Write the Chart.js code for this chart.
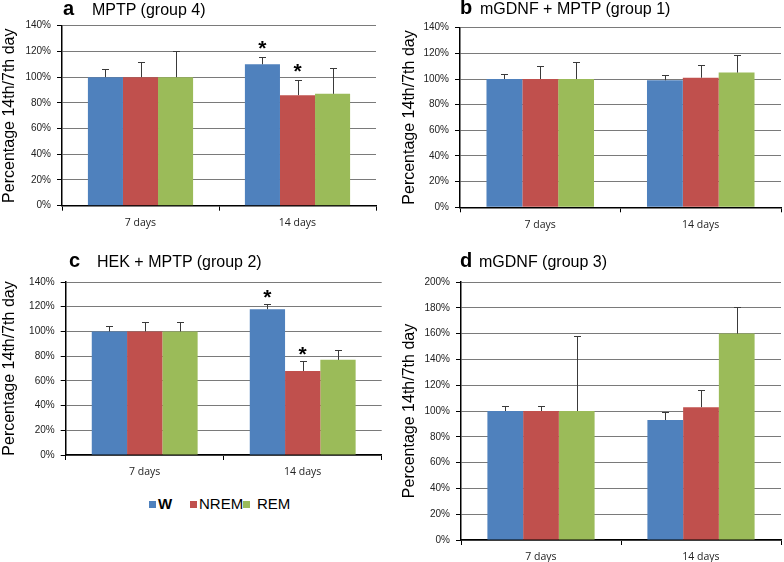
<!DOCTYPE html>
<html>
<head>
<meta charset="utf-8">
<script src="https://cdn.jsdelivr.net/npm/chart.js@4/dist/chart.umd.min.js"></script>
<style>
  html, body { margin:0; padding:0; background:#fff; }
  #wrap { position:relative; width:784px; height:562px; overflow:hidden; background:#fff; font-family:"Liberation Sans", Arial, sans-serif; }
  canvas { position:absolute; }
  .ttl { position:absolute; font-size:16px; line-height:16px; color:#000; white-space:nowrap; }
  .ttl b { font-size:20px; }
  .leg { position:absolute; font-size:15px; line-height:15px; color:#000; white-space:nowrap; }
  .sq { position:absolute; width:7px; height:7px; }
</style>
</head>
<body>
<div id="wrap">
  <canvas id="ca"></canvas>
  <canvas id="cb"></canvas>
  <canvas id="cc"></canvas>
  <canvas id="cd"></canvas>

  <div class="ttl" style="left:63px; top:0px;"><b>a</b></div>
  <div class="ttl" style="left:92px; top:2px;">MPTP (group 4)</div>
  <div class="ttl" style="left:460px; top:-1px;"><b>b</b></div>
  <div class="ttl" style="left:480px; top:1px;">mGDNF + MPTP (group 1)</div>
  <div class="ttl" style="left:69px; top:252px;"><b>c</b></div>
  <div class="ttl" style="left:97px; top:254px;">HEK + MPTP (group 2)</div>
  <div class="ttl" style="left:460px; top:252px;"><b>d</b></div>
  <div class="ttl" style="left:479px; top:254px;">mGDNF (group 3)</div>

  <div class="sq" style="left:149px; top:501px; background:#4F81BD;"></div>
  <div class="leg" style="left:158px; top:496px;"><b>W</b></div>
  <div class="sq" style="left:190px; top:501px; background:#C0504D;"></div>
  <div class="leg" style="left:199px; top:496px;">NREM</div>
  <div class="sq" style="left:243px; top:501px; background:#9BBB59;"></div>
  <div class="leg" style="left:257px; top:496px;">REM</div>
</div>
<script>
// ---- data ----
const categories = ['7 days', '14 days'];
const seriesNames = ['W', 'NREM', 'REM'];
const axisTitle = 'Percentage 14th/7th day';

// panel a: MPTP (group 4)
const aW = [100, 110];      const aWErr = [106, 116];
const aNREM = [100, 86];    const aNREMErr = [112, 98];
const aREM = [100, 87];     const aREMErr = [120, 107];
const aWStar = [false, true];
const aNREMStar = [false, true];
const aREMStar = [false, false];

// panel b: mGDNF + MPTP (group 1)
const bW = [100, 99];       const bWErr = [104, 103];
const bNREM = [100, 101];   const bNREMErr = [110, 111];
const bREM = [100, 105];    const bREMErr = [113, 118.5];

// panel c: HEK + MPTP (group 2)
const cW = [100, 118];      const cWErr = [104.5, 122];
const cNREM = [100, 68];    const cNREMErr = [108, 76];
const cREM = [100, 77];     const cREMErr = [108, 85];
const cWStar = [false, true];
const cNREMStar = [false, true];
const cREMStar = [false, false];

// panel d: mGDNF (group 3)
const dW = [100, 93];       const dWErr = [104, 99];
const dNREM = [100, 103];   const dNREMErr = [104, 116];
const dREM = [100, 160];    const dREMErr = [158, 181];

const yMaxABC = 140;
const yMaxD = 200;
const yStep = 20;

// ---- styles ----
const colors = ['#4F81BD', '#C0504D', '#9BBB59'];
const noStar = [false, false];

const errorBarPlugin = {
  id: 'errorBars',
  afterDatasetsDraw(chart) {
    const ctx = chart.ctx;
    const ys = chart.scales.y;
    const extra = chart.options.plugins.errorBars;
    ctx.save();
    chart.data.datasets.forEach((ds, i) => {
      const meta = chart.getDatasetMeta(i);
      meta.data.forEach((bar, j) => {
        const top = ys.getPixelForValue(ds.errTop[j]);
        ctx.strokeStyle = '#3a3a3a';
        ctx.lineWidth = 1;
        ctx.beginPath();
        const x = Math.round(bar.x) + 0.5;
        ctx.moveTo(x, bar.y);
        ctx.lineTo(x, Math.round(top) + 0.5);
        ctx.moveTo(x - 3.5, Math.round(top) + 0.5);
        ctx.lineTo(x + 3.5, Math.round(top) + 0.5);
        ctx.stroke();
        if (ds.star[j]) {
          ctx.font = 'bold 21px "Liberation Sans", Arial, sans-serif';
          ctx.fillStyle = '#000';
          ctx.textAlign = 'center';
          ctx.textBaseline = 'alphabetic';
          const m = ctx.measureText('*');
          const center = top - extra.starGap;
          const base = center + (m.actualBoundingBoxAscent - m.actualBoundingBoxDescent) / 2;
          ctx.fillText('*', bar.x, base);
        }
      });
    });
    ctx.restore();
  }
};

function makePanel(id, box, area, series, errs, stars, yMax, titleX, starGap) {
  const cv = document.getElementById(id);
  cv.width = box.w; cv.height = box.h;
  cv.style.left = box.x + 'px'; cv.style.top = box.y + 'px';
  cv.style.width = box.w + 'px'; cv.style.height = box.h + 'px';
  const datasets = series.map((d, i) => ({
    label: seriesNames[i],
    data: d,
    backgroundColor: colors[i],
    borderWidth: 0,
    errTop: errs[i],
    star: stars[i],
    categoryPercentage: 0.67,
    barPercentage: 1.0
  }));
  return new Chart(cv, {
    type: 'bar',
    data: { labels: categories, datasets },
    plugins: [errorBarPlugin],
    options: {
      responsive: false,
      animation: false,
      devicePixelRatio: 1,
      layout: { padding: { top: area.top - box.y, right: box.x + box.w - area.right, left: 0, bottom: 0 } },
      plugins: {
        legend: { display: false },
        tooltip: { enabled: false },
        errorBars: { starGap: starGap }
      },
      scales: {
        x: {
          grid: { display: true, drawOnChartArea: false, drawTicks: true, tickLength: 5, color: '#000', offset: true },
          border: { display: true, color: '#000', width: 1.5 },
          ticks: { color: '#222', padding: 6, font: { family: '"Open Sans", "Liberation Sans", sans-serif', size: 10.5 } },
          afterFit(s) { s.height = box.y + box.h - area.bottom; }
        },
        y: {
          min: 0, max: yMax,
          ticks: { stepSize: yStep, color: '#222', padding: 6,
                   font: { family: '"Liberation Sans", Arial, sans-serif', size: 10 },
                   callback: v => v + '%' },
          grid: { color: '#7a7a7a', lineWidth: 1, drawTicks: true, tickLength: 5, tickColor: '#000' },
          border: { display: true, color: '#000', width: 1.5 },
          title: { display: true, text: axisTitle, color: '#000',
                   font: { family: '"Liberation Sans", Arial, sans-serif', size: 16 },
                   padding: { top: titleX, bottom: 0 } },
          afterFit(s) { s.width = area.left - box.x; }
        }
      }
    }
  });
}

makePanel('ca', { x: 0, y: 0, w: 392, h: 240 }, { left: 62, right: 376, top: 25.7, bottom: 205.7 },
  [aW, aNREM, aREM], [aWErr, aNREMErr, aREMErr], [aWStar, aNREMStar, aREMStar], yMaxABC, 0, 12);
makePanel('cb', { x: 392, y: 0, w: 392, h: 240 }, { left: 460, right: 781, top: 27.7, bottom: 207.3 },
  [bW, bNREM, bREM], [bWErr, bNREMErr, bREMErr], [noStar, noStar, noStar], yMaxABC, 8, 12);
makePanel('cc', { x: 0, y: 270, w: 392, h: 215 }, { left: 65.7, right: 381.7, top: 277.3, bottom: 455 },
  [cW, cNREM, cREM], [cWErr, cNREMErr, cREMErr], [cWStar, cNREMStar, cREMStar], yMaxABC, 0, 10);
makePanel('cd', { x: 392, y: 270, w: 392, h: 292 }, { left: 461, right: 781, top: 276.3, bottom: 540 },
  [dW, dNREM, dREM], [dWErr, dNREMErr, dREMErr], [noStar, noStar, noStar], yMaxD, 8, 12);
</script>
</body>
</html>
